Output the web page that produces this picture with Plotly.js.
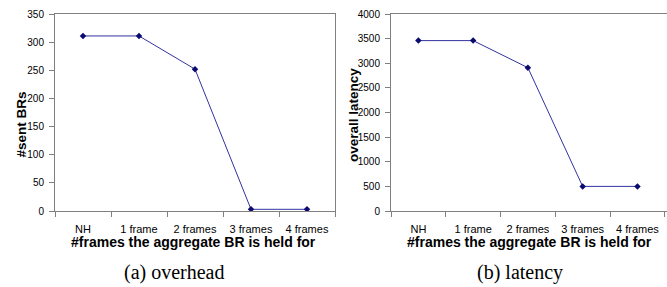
<!DOCTYPE html>
<html><head><meta charset="utf-8">
<script src="https://cdn.plot.ly/plotly-3.0.1.min.js"></script>
<style>html,body{margin:0;padding:0;background:#fff}#chart{width:667px;height:287px}</style>
</head><body><div id="chart"></div>
<script>
const categories = ["NH", "1 frame", "2 frames", "3 frames", "4 frames"];
const sentBRs = [311, 311, 252, 3, 3];
const overallLatency = [3460, 3460, 2910, 500, 500];
const overheadTicks = [0, 50, 100, 150, 200, 250, 300, 350];
const latencyTicks = [0, 500, 1000, 1500, 2000, 2500, 3000, 3500, 4000];
const xTitle = '#frames the aggregate BR is held for';
const yTitles = ['#sent BRs', 'overall latency'];
const captions = ['(a) overhead', '(b) latency'];

const lineStyle = {color: '#3333a0', width: 1};
const markerStyle = {symbol: 'diamond', size: 5, color: '#0a0a70'};
const ytickFont = {family: 'Liberation Sans, Arial, sans-serif', size: 10, color: '#000'};
const xtickFont = {family: 'Liberation Sans, Arial, sans-serif', size: 11, color: '#000'};
const titleFont = {family: 'Liberation Sans, Arial, sans-serif', size: 14, color: '#000', weight: 'bold'};
const yTitleFont = {family: 'Liberation Sans, Arial, sans-serif', size: 13.5, color: '#000', weight: 'bold'};
const capFont = {family: 'Liberation Serif, Times New Roman, serif', size: 20, color: '#000'};

const data = [
  {x: categories, y: sentBRs, type: 'scatter', mode: 'lines+markers', line: lineStyle, marker: markerStyle, xaxis: 'x', yaxis: 'y'},
  {x: categories, y: overallLatency, type: 'scatter', mode: 'lines+markers', line: lineStyle, marker: markerStyle, xaxis: 'x2', yaxis: 'y2'}
];

const xCommon = {
  type: 'category', tickson: 'boundaries', ticks: 'outside', ticklen: 5, tickcolor: '#808080',
  showline: true, linecolor: '#808080', linewidth: 1, showgrid: false, zeroline: false,
  tickfont: xtickFont, ticklabelstandoff: 8, automargin: false
};
const yCommon = {
  ticks: 'outside', ticklen: 5, tickcolor: '#808080', showline: true, linecolor: '#808080', linewidth: 1,
  showgrid: false, zeroline: false, tickfont: ytickFont, automargin: false, ticklabelstandoff: 3
};

function ann(text, x, y, font, angle) {
  return {text: text, xref: 'paper', yref: 'paper', x: x, y: y, xanchor: 'center', yanchor: 'middle',
    showarrow: false, font: font, textangle: angle || 0};
}

const layout = {
  width: 667, height: 287, showlegend: false,
  paper_bgcolor: '#fff', plot_bgcolor: '#fff',
  margin: {l: 0, r: 0, t: 14, b: 76},
  xaxis: Object.assign({}, xCommon, {domain: [55/667, 335/667], range: [-0.5, 4.5], mirror: true, anchor: 'y'}),
  yaxis: Object.assign({}, yCommon, {range: [0, 350], tickvals: overheadTicks, mirror: true, anchor: 'x'}),
  xaxis2: Object.assign({}, xCommon, {domain: [391/667, 1], range: [-0.5, 4.54], mirror: true, anchor: 'y2'}),
  yaxis2: Object.assign({}, yCommon, {range: [0, 4000], tickvals: latencyTicks, anchor: 'x2'}),
  annotations: [
    ann(xTitle, 193/667, -0.157, titleFont),
    ann(xTitle, 529/667, -0.157, titleFont),
    ann(yTitles[0], 22/667, 0.439, yTitleFont, -90),
    ann(yTitles[1], 353/667, 0.487, yTitleFont, -90),
    ann(captions[0], 175/667, -0.31, capFont),
    ann(captions[1], 520/667, -0.31, capFont)
  ]
};

Plotly.newPlot('chart', data, layout, {displayModeBar: false, staticPlot: true});
</script></body></html>
